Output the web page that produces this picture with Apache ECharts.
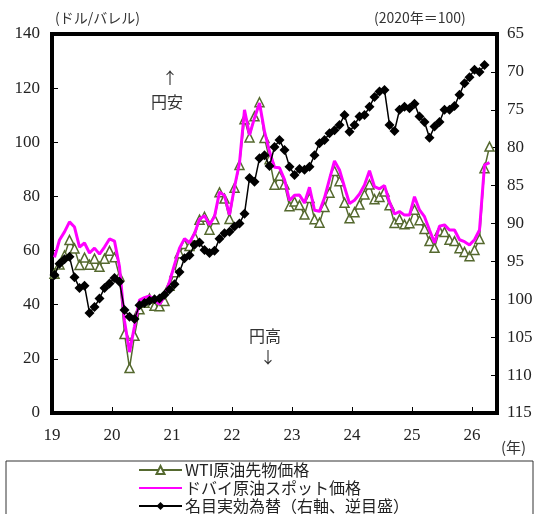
<!DOCTYPE html>
<html>
<head>
<meta charset="utf-8">
<script src="https://cdn.jsdelivr.net/npm/echarts@6/dist/echarts.min.js"></script>
<style>
  html, body { margin: 0; padding: 0; background: #fff; }
  #chart { width: 543px; height: 514px; }
</style>
</head>
<body>
<div id="chart"></div>
<script>
// 月次データ（2019年1月～）
const startYear = 2019;
const yearLabels = ["19", "20", "21", "22", "23", "24", "25", "26"];

// WTI原油先物価格（ドル/バレル）
const wti = [
  51.4, 54.9, 58.2, 63.9, 60.8, 54.7, 57.4, 54.8, 57.0, 54.0, 57.0, 59.9,
  57.5, 50.5, 29.2, 16.6, 28.5, 38.3, 40.7, 42.3, 39.6, 39.4, 41.4, 47.0,
  52.0, 59.0, 62.4, 61.7, 65.2, 71.4, 72.5, 67.7, 71.6, 81.5, 79.2, 71.7,
  83.2, 91.6, 108.5, 101.8, 109.6, 114.8, 101.6, 93.7, 84.3, 87.6, 84.4, 76.4,
  78.1, 76.8, 73.3, 79.4, 71.6, 70.3, 76.1, 81.4, 89.4, 85.6, 77.7, 71.9,
  74.2, 77.0, 80.7, 84.4, 79.0, 79.8, 81.8, 76.7, 70.2, 71.6, 69.7, 70.1,
  75.1, 71.2, 68.0, 63.5, 61.0, 67.3, 66.9, 64.0, 63.5, 60.9, 59.5, 57.9,
  60.2, 64.3, 90.4, 98.4
];

// ドバイ原油スポット価格（ドル/バレル）
const dubai = [
  57.5, 63.9, 66.9, 70.6, 68.7, 61.3, 62.8, 59.1, 60.9, 58.7, 61.3, 64.3,
  63.5, 54.0, 34.0, 22.5, 32.0, 41.7, 42.6, 43.2, 41.7, 40.2, 43.0, 48.5,
  54.8, 60.9, 64.4, 62.9, 66.3, 71.6, 72.9, 69.5, 72.6, 81.6, 80.3, 73.2,
  83.5, 92.4, 112.0, 102.7, 109.0, 114.5, 104.0, 96.6, 90.8, 90.6, 86.2, 78.5,
  80.4, 80.5, 77.6, 83.4, 74.9, 74.5, 79.5, 86.4, 93.1, 89.8, 83.5, 77.4,
  78.6, 80.9, 84.2, 89.5, 83.6, 82.8, 84.0, 77.9, 73.5, 74.4, 73.1, 73.1,
  79.9, 75.0, 72.5, 67.6, 62.9, 69.0, 69.5, 67.6, 67.6, 64.0, 63.3, 62.1,
  64.0, 67.6, 91.6, 92.5
];

// 名目実効為替（2020年=100、右軸・逆目盛）
const neer = [
  96.8, 95.3, 94.7, 94.4, 97.1, 98.5, 98.2, 101.8, 101.0, 99.9, 98.5, 97.9,
  97.2, 97.7, 101.4, 102.3, 102.6, 100.8, 100.5, 100.2, 100.0, 99.9, 99.4, 98.7,
  98.0, 96.4, 94.6, 94.2, 92.8, 92.5, 93.5, 93.9, 93.6, 92.0, 91.3, 91.1,
  90.4, 90.0, 88.7, 84.0, 84.5, 81.4, 81.0, 82.4, 79.9, 79.0, 80.3, 82.5,
  83.6, 82.8, 82.9, 82.5, 81.0, 79.4, 79.0, 78.1, 77.7, 77.0, 75.7, 77.9,
  77.0, 75.9, 75.7, 74.6, 73.3, 72.6, 72.4, 77.0, 77.8, 75.0, 74.6, 74.8,
  74.2, 75.9, 76.6, 78.7, 77.2, 76.6, 75.0, 75.0, 74.5, 73.0, 71.5, 70.7,
  69.7, 70.0, 69.1
];

const names = ["WTI原油先物価格", "ドバイ原油スポット価格", "名目実効為替（右軸、逆目盛）"];

// 月の中央に点を置く
function toPairs(arr) {
  return arr.map(function (v, i) {
    return [startYear + (i + 0.5) / 12, v];
  });
}

const serif = "'Liberation Serif', 'DejaVu Serif', serif";
const jp = "'Noto Sans CJK JP', sans-serif";

// 凡例は1行ずつ並べる
function legendRow(item, top) {
  return {
    orient: "vertical",
    left: 138,
    top: top,
    padding: 0,
    itemWidth: 43,
    itemHeight: 10,
    textStyle: { fontFamily: jp, fontSize: 16, color: "#222", padding: [0, 0, 0, -2] },
    data: [item]
  };
}

let myChart = echarts.init(document.getElementById("chart"));
let option = {
  animation: false,
  backgroundColor: "#fff",
  grid: {
    left: 52,
    right: 46,
    top: 34,
    bottom: 101,
    show: true,
    borderColor: "#000",
    borderWidth: 4
  },
  legend: [
    legendRow(names[0], 462),
    legendRow({ name: names[1], itemStyle: { opacity: 0 } }, 480),
    legendRow(names[2], 498)
  ],
  xAxis: {
    type: "value",
    min: 2019,
    max: 2019 + 89 / 12,
    interval: 1,
    axisLine: { lineStyle: { color: "#000", width: 4 } },
    axisTick: { inside: true, length: 6, lineStyle: { color: "#000", width: 1 } },
    splitLine: { show: false },
    axisLabel: {
      margin: 14,
      fontFamily: serif,
      fontSize: 17,
      color: "#222",
      showMaxLabel: false,
      formatter: function (v) {
        let k = Math.round(v) - startYear;
        return yearLabels[k] || "";
      }
    }
  },
  yAxis: [
    {
      type: "value",
      min: 0,
      max: 140,
      interval: 20,
      axisLine: { show: true, lineStyle: { color: "#000", width: 4 } },
      axisTick: { show: true, inside: true, length: 6, lineStyle: { color: "#000", width: 1 } },
      splitLine: { show: false },
      axisLabel: { margin: 12, fontFamily: serif, fontSize: 17, color: "#222" }
    },
    {
      type: "value",
      min: 65,
      max: 115,
      interval: 5,
      inverse: true,
      position: "right",
      axisLine: { show: true, lineStyle: { color: "#000", width: 4 } },
      axisTick: { show: true, inside: true, length: 6, lineStyle: { color: "#000", width: 1 } },
      splitLine: { show: false },
      axisLabel: { margin: 10, fontFamily: serif, fontSize: 17, color: "#222" }
    }
  ],
  series: [
    {
      name: names[0],
      type: "line",
      yAxisIndex: 0,
      data: toPairs(wti),
      symbol: "triangle",
      symbolSize: 9,
      lineStyle: { color: "#55692f", width: 1.5 },
      itemStyle: { color: "#fff", borderColor: "#55692f", borderWidth: 1.5 },
      z: 2
    },
    {
      name: names[1],
      type: "line",
      yAxisIndex: 0,
      data: toPairs(dubai),
      symbol: "none",
      lineStyle: { color: "#ff00ff", width: 3 },
      itemStyle: { color: "#ff00ff" },
      z: 3
    },
    {
      name: names[2],
      type: "line",
      yAxisIndex: 1,
      data: toPairs(neer),
      symbol: "diamond",
      symbolSize: 10,
      lineStyle: { color: "#000", width: 1.5 },
      itemStyle: { color: "#000" },
      z: 4
    }
  ],
  graphic: [
    { type: "text", left: 55, top: 11, style: { text: "(ドル/バレル)", font: "14px " + jp, fill: "#333" } },
    { type: "text", left: 374, top: 11, style: { text: "(2020年＝100)", font: "14px " + jp, fill: "#333" } },
    { type: "text", left: 501, top: 440, style: { text: "(年)", font: "15px " + jp, fill: "#333" } },
    { type: "text", left: 162, top: 70, style: { text: "↑", font: "16px " + jp, fill: "#333" } },
    { type: "text", left: 151, top: 94, style: { text: "円安", font: "16px " + jp, fill: "#333" } },
    { type: "text", left: 249, top: 328, style: { text: "円高", font: "16px " + jp, fill: "#333" } },
    { type: "text", left: 260, top: 349, style: { text: "↓", font: "16px " + jp, fill: "#333" } },
    {
      type: "rect",
      shape: { x: 6, y: 461, width: 527, height: 60 },
      style: { fill: "none", stroke: "#333", lineWidth: 1 },
      z: -1
    }
  ]
};
myChart.setOption(option);
</script>
</body>
</html>
